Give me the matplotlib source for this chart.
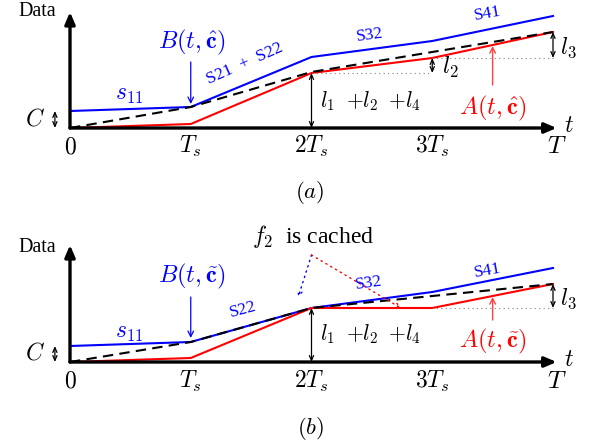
import numpy as np
import matplotlib
matplotlib.use("Agg")
import matplotlib.pyplot as plt

plt.rcParams['font.family'] = ['Liberation Serif', 'DejaVu Serif']
plt.rcParams['mathtext.fontset'] = 'cm'

# time points in units of Ts (0, Ts, 2Ts, 3Ts, T)
t = [0, 1, 2, 3, 4]
tick_labels = ["$0$", "$T_s$", "$2T_s$", "$3T_s$", "$T$"]

# panel (a)
blue_a = [1.7, 2.1, 7.1, 8.7, 11.2]
red_a = [0.0, 0.4, 5.5, 7.0, 9.6]
dash_t_a = [0, 1, 2, 4]
dash_a = [0.0, 2.1, 5.6, 9.6]

# panel (b)
blue_b = [1.6, 2.0, 5.4, 7.0, 9.4]
red_b = [0.0, 0.4, 5.4, 5.4, 7.8]
dash_t_b = [0, 1, 2, 4]
dash_b = [0.0, 2.0, 5.4, 7.8]

BLUE = "#0000ff"
RED = "#ff0000"
FS = 17

fig = plt.figure(figsize=(5.94, 4.46), dpi=100)
ax_a = fig.add_axes([0, 0.5, 1, 0.5])
ax_b = fig.add_axes([0, 0, 1, 0.5])

xlim = (-70 / 120.75, (594 - 70) / 120.75)
ax_a.set_xlim(*xlim)
ax_a.set_ylim(-9.5, 12.8)
ax_b.set_xlim(*xlim)
ax_b.set_ylim(-8.4, 13.9)


def base(ax, ytop, ylab, ytick):
    ax.axis("off")
    # axes arrows
    ax.annotate("", xy=(4.03, 0), xytext=(0, 0),
                arrowprops=dict(arrowstyle="-|>,head_length=0.7,head_width=0.3",
                                lw=2.4, color="black", shrinkA=0, shrinkB=0))
    ax.annotate("", xy=(0, ytop), xytext=(0, 0),
                arrowprops=dict(arrowstyle="-|>,head_length=0.7,head_width=0.3",
                                lw=2.4, color="black", shrinkA=0, shrinkB=0))
    ax.text(-0.27, ylab, "Data", fontsize=14.5, ha="center", va="center")
    for x, lab in zip(t[:4], tick_labels[:4]):
        ax.text(x, ytick, lab, fontsize=FS, ha="center", va="baseline")
    ax.text(4.03, ytick, tick_labels[4], fontsize=FS + 1, ha="center", va="baseline")
    ax.text(4.13, 0.1, "$t$", fontsize=FS, ha="center", va="center")
    ax.text(-0.29, 0.8, "$C$", fontsize=FS, ha="center", va="center")


def dbl(ax, x, y0, y1, lw=0.9, hw=0.15):
    ax.annotate("", xy=(x, y1), xytext=(x, y0),
                arrowprops=dict(arrowstyle="<->,head_length=0.35,head_width=%g" % hw,
                                lw=lw, color="black", shrinkA=0, shrinkB=0))


def one(ax, x, y0, y1, color, lw=0.9):
    ax.annotate("", xy=(x, y1), xytext=(x, y0),
                arrowprops=dict(arrowstyle="->,head_length=0.4,head_width=0.2",
                                lw=lw, color=color, shrinkA=0, shrinkB=0))


# ---------- panel (a) ----------
ax = ax_a
base(ax, 11.6, 11.6, -2.5)
ax.plot(t, blue_a, color=BLUE, lw=1.5)
ax.plot(t, red_a, color=RED, lw=1.5)
ax.plot(dash_t_a, dash_a, color="black", lw=1.5, dashes=(5, 3))
ax.plot([2, 3], [red_a[2], red_a[2]], color="gray", lw=0.8, ls=(0, (1, 3)))
ax.plot([3, 4], [red_a[3], red_a[3]], color="gray", lw=0.8, ls=(0, (1, 3)))
dbl(ax, -0.125, 0.0, blue_a[0])
dbl(ax, 2.0, 0.0, red_a[2])
dbl(ax, 3.0, red_a[2], red_a[3])
dbl(ax, 4.0, red_a[3], red_a[4])
one(ax, 1.0, 6.6, 2.4, BLUE)
one(ax, 3.5, 4.3, 8.2, "#ff4040", lw=1.0)
ax.text(0.49, 3.3, "$s_{11}$", color=BLUE, fontsize=FS, ha="center", va="center")
ax.text(1.01, 8.6, r"$B(t,\hat{\mathbf{c}})$", color=BLUE, fontsize=FS + 0.5, ha="center", va="center")
ax.text(1.45, 6.4, "S21  +  S22", color=BLUE, fontsize=12.5, ha="center", va="center", rotation=24)
ax.text(2.48, 9.3, "S32", color=BLUE, fontsize=12.5, ha="center", va="center", rotation=8)
ax.text(3.46, 11.4, "S41", color=BLUE, fontsize=12.5, ha="center", va="center", rotation=10)
ax.text(3.08, 6.1, "$l_2$", fontsize=FS, ha="left", va="center")
ax.text(4.06, 8.0, "$l_3$", fontsize=FS, ha="left", va="center")
ax.text(2.07, 2.7, "$l_1$  $+l_2$  $+l_4$", fontsize=FS - 1.5, ha="left", va="center")
ax.text(3.5, 2.0, r"$A(t,\hat{\mathbf{c}})$", color=RED, fontsize=FS + 0.5, ha="center", va="center")
ax.text(1.99, -6.4, "$(a)$", fontsize=16.5, ha="center", va="center")

# ---------- panel (b) ----------
ax = ax_b
base(ax, 11.7, 11.5, -2.6)
ax.plot(t, blue_b, color=BLUE, lw=1.5)
ax.plot(t, red_b, color=RED, lw=1.5)
ax.plot(dash_t_b, dash_b, color="black", lw=1.5, dashes=(5, 3))
ax.plot([3, 4], [red_b[3], red_b[3]], color="gray", lw=0.8, ls=(0, (1, 3)))
dbl(ax, -0.125, 0.0, blue_b[0])
dbl(ax, 2.0, 0.0, red_b[2])
dbl(ax, 4.0, red_b[3], red_b[4])
one(ax, 1.0, 6.5, 2.4, BLUE)
one(ax, 3.5, 4.2, 6.5, "#ff4040", lw=1.0)
ax.annotate("", xy=(1.89, 6.5), xytext=(2.0, 10.7),
            arrowprops=dict(arrowstyle="->,head_length=0.3,head_width=0.15",
                            lw=1.0, color=BLUE, ls=(0, (1, 3)), shrinkA=0, shrinkB=0))
ax.annotate("", xy=(2.74, 5.4), xytext=(2.0, 10.7),
            arrowprops=dict(arrowstyle="->,head_length=0.3,head_width=0.15",
                            lw=1.0, color=RED, ls=(0, (1, 3)), shrinkA=0, shrinkB=0))
ax.text(2.01, 12.6, "$f_2$  is cached", fontsize=FS, ha="center", va="center")
ax.text(0.49, 2.9, "$s_{11}$", color=BLUE, fontsize=FS, ha="center", va="center")
ax.text(1.01, 8.6, r"$B(t,\tilde{\mathbf{c}})$", color=BLUE, fontsize=FS + 0.5, ha="center", va="center")
ax.text(1.43, 5.2, "S22", color=BLUE, fontsize=12.5, ha="center", va="center", rotation=15)
ax.text(2.47, 7.9, "S32", color=BLUE, fontsize=12.5, ha="center", va="center", rotation=8)
ax.text(3.46, 9.1, "S41", color=BLUE, fontsize=12.5, ha="center", va="center", rotation=10)
ax.text(4.06, 6.3, "$l_3$", fontsize=FS, ha="left", va="center")
ax.text(2.07, 2.8, "$l_1$  $+l_2$  $+l_4$", fontsize=FS - 1.5, ha="left", va="center")
ax.text(3.5, 2.1, r"$A(t,\tilde{\mathbf{c}})$", color=RED, fontsize=FS + 0.5, ha="center", va="center")
ax.text(1.99, -6.7, "$(b)$", fontsize=16.5, ha="center", va="center")

fig.savefig("out.png", dpi=100)
